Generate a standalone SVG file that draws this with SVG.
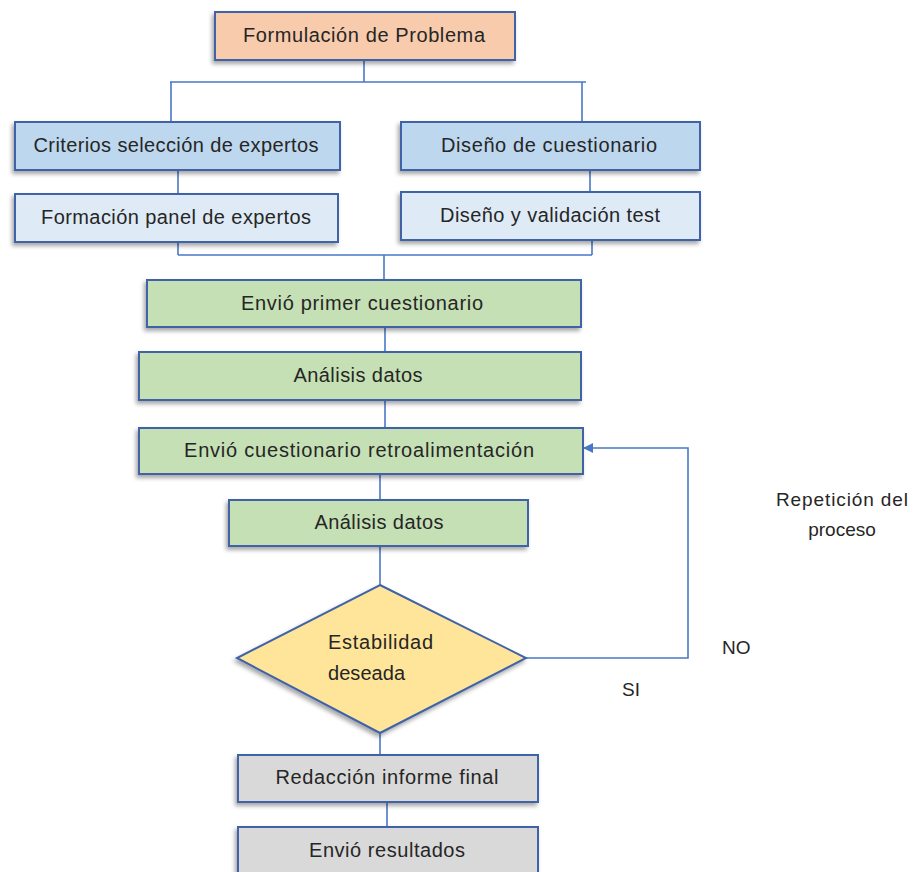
<svg xmlns="http://www.w3.org/2000/svg" width="916" height="872" viewBox="0 0 916 872">
<style>
.box{stroke:#3f63a8;stroke-width:2;filter:url(#sh)}
.t{font-family:"Liberation Sans",Arial,sans-serif;font-size:20px;fill:#262626;text-anchor:middle;dominant-baseline:central}
.lbl{font-family:"Liberation Sans",Arial,sans-serif;font-size:19px;fill:#262626}
.dl{font-size:20px}
.c{fill:none;stroke:#4a78c8;stroke-width:1.6}
.peach{fill:#f8cbad}.blue{fill:#bdd7ee}.lblue{fill:#deebf7}.green{fill:#c5e0b4}.gray{fill:#d9d9d9}.yel{fill:#ffe599}
</style>
<defs>
<filter id="sh" x="-10%" y="-20%" width="120%" height="150%">
<feDropShadow dx="-2" dy="3" stdDeviation="2" flood-color="#000" flood-opacity="0.35"/>
</filter>
<marker id="arr" markerWidth="10" markerHeight="10" refX="9" refY="5" orient="auto" markerUnits="userSpaceOnUse">
<path d="M0,0 L10,5 L0,10 Z" fill="#4a78c8"/>
</marker>
</defs>
<rect width="916" height="872" fill="#fff"/>
<g id="connectors">
<path class="c" d="M364,60 V82 M170,82 H586 M171,82 V122 M582,82 V122"/>
<path class="c" d="M178,170 V194 M590,170 V192"/>
<path class="c" d="M178,242 V255 M592,240 V255 M178,255 H592 M384,255 V280"/>
<path class="c" d="M385,327 V352 M385,400 V428 M380,474 V500 M380,546 V585 M380,733 V755 M387,802 V827"/>
<path class="c" d="M526,658 H688 V448 H584" marker-end="url(#arr)"/>
</g>
<g id="n1"><rect class="box peach" x="215" y="12" width="300" height="48"/><text class="t" x="364" y="35" textLength="242">Formulación de Problema</text></g>
<g id="n2"><rect class="box blue" x="15" y="122" width="325" height="48"/><text class="t" x="176" y="145" textLength="285">Criterios selección de expertos</text></g>
<g id="n3"><rect class="box blue" x="401" y="122" width="299" height="48"/><text class="t" x="549" y="145" textLength="216">Diseño de cuestionario</text></g>
<g id="n4"><rect class="box lblue" x="15" y="194" width="323" height="48"/><text class="t" x="176" y="217" textLength="270">Formación panel de expertos</text></g>
<g id="n5"><rect class="box lblue" x="401" y="192" width="299" height="48"/><text class="t" x="550" y="215" textLength="220">Diseño y validación test</text></g>
<g id="n6"><rect class="box green" x="147" y="280" width="434" height="47"/><text class="t" x="362" y="303" textLength="242">Envió primer cuestionario</text></g>
<g id="n7"><rect class="box green" x="139" y="352" width="442" height="48"/><text class="t" x="358" y="375" textLength="129">Análisis datos</text></g>
<g id="n8"><rect class="box green" x="139" y="428" width="444" height="46"/><text class="t" x="359" y="450" textLength="350">Envió cuestionario retroalimentación</text></g>
<g id="n9"><rect class="box green" x="229" y="500" width="299" height="46"/><text class="t" x="379" y="522" textLength="129">Análisis datos</text></g>
<g id="n10"><path class="box yel" d="M380,585 L526,658 L380,733 L237,658 Z"/><text class="lbl dl" x="328" y="649" textLength="105">Estabilidad</text><text class="lbl dl" x="328" y="680" textLength="77">deseada</text></g>
<g id="n11"><rect class="box gray" x="238" y="755" width="300" height="47"/><text class="t" x="387" y="777" textLength="223">Redacción informe final</text></g>
<g id="n12"><rect class="box gray" x="238" y="827" width="300" height="50"/><text class="t" x="387" y="850" textLength="156">Envió resultados</text></g>
<g id="labels">
<text class="lbl" x="842" y="506" text-anchor="middle" textLength="132">Repetición del</text>
<text class="lbl" x="842" y="536" text-anchor="middle">proceso</text>
<text class="lbl" x="722" y="654">NO</text>
<text class="lbl" x="622" y="696">SI</text>
</g>
</svg>
